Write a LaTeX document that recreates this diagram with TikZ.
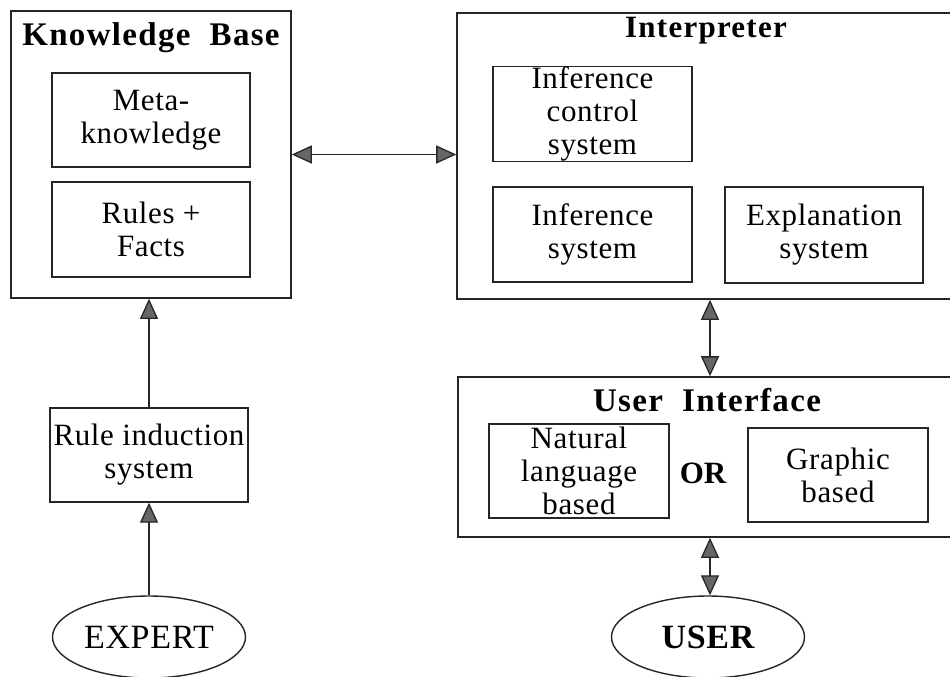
\documentclass[tikz,border=0pt]{standalone}
\usepackage{fontspec}
\setmainfont{Liberation Serif}
\newfontfamily\bodyfont{Liberation Serif}[LetterSpace=2]
\newfontfamily\headfont{Liberation Serif}[LetterSpace=4]
\usetikzlibrary{arrows.meta,shapes.geometric}

\tikzset{
  frame/.style={draw=black!85, line width=1.6pt, rectangle, inner sep=0pt},
  inbox/.style={draw=black!85, line width=1.4pt, rectangle, inner sep=0pt,
    align=center, font=\bodyfont\fontsize{31}{33}\selectfont},
  heading/.style={inner sep=0pt, font=\headfont\bfseries\fontsize{33}{36}\selectfont},
  actor/.style={draw=black!85, line width=1.4pt, ellipse, inner sep=0pt,
    minimum width=193pt, minimum height=82pt},
  tip/.tip={Triangle[length=20pt,width=18pt,fill=black!60]},
  link/.style={draw=black!85, line width=1.3pt},
}

\begin{document}
\begin{tikzpicture}[x=1pt,y=-1pt]
\useasboundingbox (0,0) rectangle (950,677);
\clip (0,0) rectangle (950,677);
\fill[white] (0,0) rectangle (950,677);

% Knowledge base
\node[frame, minimum width=280pt, minimum height=287pt] (kb) at (151,154.5) {};
\node[heading] (kbt) at (151,38) {Knowledge\ \ Base};
\node[inbox, minimum width=198pt, minimum height=94pt] (meta) at (151,120)
  {Meta-\\knowledge};
\node[inbox, minimum width=198pt, minimum height=95pt] (facts) at (151,229.5)
  {Rules +\\Facts};

% Interpreter
\node[frame, minimum width=503pt, minimum height=286pt] (interp) at (708.5,156) {};
\node[heading, font=\headfont\bfseries\fontsize{31}{36}\selectfont] (interpt) at (706,31) {Interpreter};
\node[inbox, minimum width=199pt, minimum height=94pt] (ictl) at (592.5,114)
  {Inference\\control\\system};
\node[inbox, minimum width=199pt, minimum height=95pt] (inf) at (592.5,234.5)
  {Inference\\system};
\node[inbox, minimum width=198pt, minimum height=96pt] (expl) at (824,235)
  {Explanation\\system};

% User interface
\node[frame, minimum width=502pt, minimum height=160pt] (ui) at (709,457) {};
\node[heading] (uit) at (707,400) {User\ \ Interface};
\node[inbox, minimum width=180pt, minimum height=94pt] (nat) at (579,471)
  {Natural\\language\\based};
\node[heading, font=\bfseries\fontsize{31}{36}\selectfont] (or) at (703,473) {OR};
\node[inbox, minimum width=180pt, minimum height=94pt] (gfx) at (838,475)
  {Graphic\\based};

% Rule induction and the two actors
\node[inbox, minimum width=198pt, minimum height=94pt] (rule) at (149,455)
  {Rule induction\\system};
\node[actor, font=\bodyfont\fontsize{34}{36}\selectfont] (expert) at (149,637) {EXPERT};
\node[actor, font=\bodyfont\bfseries\fontsize{34}{36}\selectfont] (user) at (708,637) {USER};

% Connectors
\draw[link, tip-tip] (kb.east) -- (kb.east -| interp.west);
\draw[link, tip-tip] (interp.south -| 710,0) -- (ui.north -| 710,0);
\draw[link, tip-tip] (ui.south -| 710,0) -- (user.north -| 710,0);
\draw[link, -tip] (rule.north) -- (rule.north |- kb.south);
\draw[link, -tip] (expert.north) -- (rule.south);
\end{tikzpicture}
\end{document}
